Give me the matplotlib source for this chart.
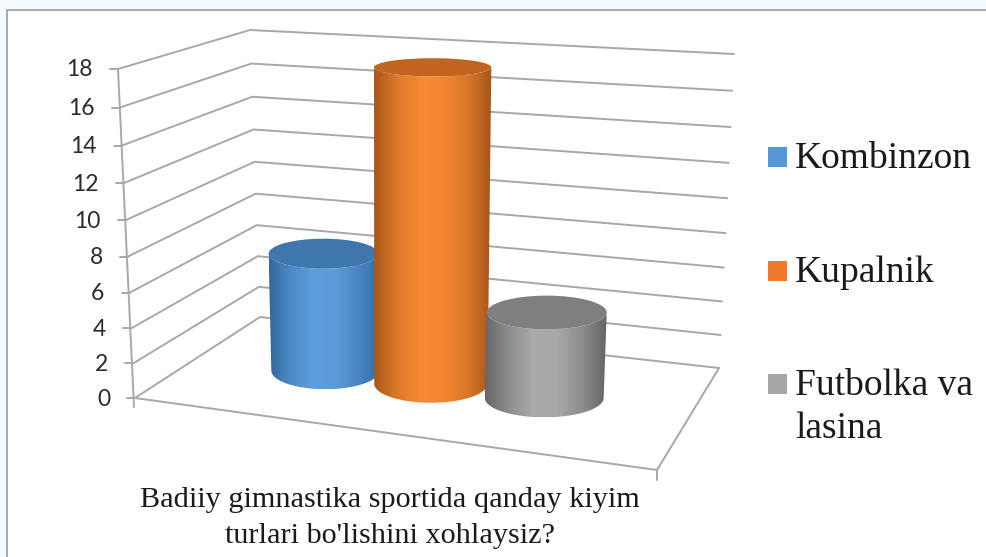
import numpy as np
import matplotlib
matplotlib.use("Agg")
import matplotlib.pyplot as plt
from matplotlib.colors import LinearSegmentedColormap
from matplotlib.patches import Polygon, Ellipse, Rectangle

categories = ["Kombinzon", "Kupalnik", "Futbolka va\nlasina"]
values = [7, 18, 5]
ticks = list(range(0, 20, 2))
xlabel_lines = ["Badiiy gimnastika sportida qanday kiyim", "turlari bo'lishini xohlaysiz?"]

bar_pos = [0.254, 0.47, 0.702]
body_stops = [
    ["#33689c", "#4c8bc6", "#5c9fdd", "#5a9bd8", "#4a87c2", "#356ca3"],
    ["#a9561a", "#dc7a2c", "#f88a33", "#f48632", "#d8772a", "#a5541a"],
    ["#666666", "#8e8e8e", "#aaaaaa", "#a8a8a8", "#8c8c8c", "#646464"],
]
top_colors = ["#3f76ab", "#c0641f", "#7f7f7f"]
legend_colors = ["#5498da", "#f07a2a", "#a6a6a6"]
GRID = "#a8a8a8"
VMAX = 18.0

# corners of the projected 3D box, as (x, y) at value 0 and at value max
FL = ((135, 398), (118, 69))
BL = ((260, 317), (250, 30))
BR = ((719, 368), (734, 54))
FR = ((657, 470), (680, 128))


def project(frac, depth, v):
    t = v / VMAX
    t = t + 0.06 * t * (t - 1)
    pts = []
    for k in range(2):
        front = (1 - frac) * np.array(FL[k]) + frac * np.array(FR[k])
        back = (1 - frac) * np.array(BL[k]) + frac * np.array(BR[k])
        pts.append((1 - depth) * front + depth * back)
    return (1 - t) * pts[0] + t * pts[1]


fig = plt.figure(figsize=(9.87, 5.57), dpi=100, facecolor="#f4fbfe")
ax = fig.add_axes([0, 0, 1, 1])
ax.set_axis_off()

ax.add_patch(Rectangle((7, 10), 985, 560, fc="white", ec="#a2a2a2", lw=1.3, zorder=0))

lk = dict(color=GRID, lw=1.4, solid_capstyle="round", zorder=1)
for v in ticks:
    a, b, c = project(0, 0, v), project(0, 1, v), project(1, 1, v)
    ax.plot([a[0], b[0], c[0]], [a[1], b[1], c[1]], **lk)
    ax.plot([a[0] - 8, a[0]], [a[1], a[1]], **lk)
    ax.text(a[0] - 25, a[1] + 1, str(v), ha="right", va="center", fontsize=16.5,
            family="Lato", color="#2b2b2b")

a0, a1 = project(0, 0, 0), project(0, 0, VMAX)
ax.plot([a1[0], a0[0] - 1], [a1[1], a0[1] + 9], **lk)
p1, p2, p3 = project(0, 0, 0), project(1, 0, 0), project(1, 1, 0)
ax.plot([p1[0], p2[0], p3[0]], [p1[1], p2[1], p3[1]], **lk)
ax.plot([p2[0], p2[0]], [p2[1], p2[1] + 10], **lk)


def semi_minor(y):
    return 7 + 0.0315 * y


for i, (val, pos) in enumerate(zip(values, bar_pos)):
    bot = project(pos, 0.53, 0)
    top = project(pos, 0.53, val)
    rx_b = 51 + 12 * pos
    rx_t = rx_b + 2 * val / VMAX
    ry_b, ry_t = semi_minor(bot[1]), semi_minor(top[1])
    th = np.linspace(np.pi, 0, 80)
    upper = np.c_[top[0] + rx_t * np.cos(th), top[1] + ry_t * np.sin(th)]
    lower = np.c_[bot[0] + rx_b * np.cos(th[::-1]), bot[1] + ry_b * np.sin(th[::-1])]
    poly = Polygon(np.r_[upper, lower], closed=True, fc="none", ec="none", zorder=2 + i)
    ax.add_patch(poly)
    cmap = LinearSegmentedColormap.from_list(f"c{i}", body_stops[i])
    x0 = min(top[0] - rx_t, bot[0] - rx_b)
    x1 = max(top[0] + rx_t, bot[0] + rx_b)
    grad = np.linspace(0, 1, 256)[None, :]
    im = ax.imshow(grad, cmap=cmap, extent=[x0, x1, bot[1] + ry_b, top[1] - ry_t],
                   aspect="auto", zorder=2 + i, interpolation="bilinear")
    im.set_clip_path(poly)
    ax.add_patch(Ellipse(top, 2 * rx_t, 2 * ry_t, fc=top_colors[i], ec="none", zorder=2 + i))

for line, y in zip(xlabel_lines, [507, 543]):
    ax.text(390, y, line, ha="center", va="baseline", fontsize=21.8, family="Liberation Serif",
            color="#1a1a1a")

leg_y = [157, 270.5, 384]
leg_base = [168, 282, 395]
for name, color, y, base in zip(categories, legend_colors, leg_y, leg_base):
    ax.add_patch(Rectangle((768, y - 10), 19, 20, fc=color, ec="none", zorder=2))
    for j, part in enumerate(name.split("\n")):
        ax.text(795, base + 43 * j, part, ha="left", va="baseline", fontsize=27,
                family="Liberation Serif", color="#1a1a1a")

ax.set_xlim(0, 987)
ax.set_ylim(557, 0)
fig.savefig("out.png", dpi=100, facecolor=fig.get_facecolor())
